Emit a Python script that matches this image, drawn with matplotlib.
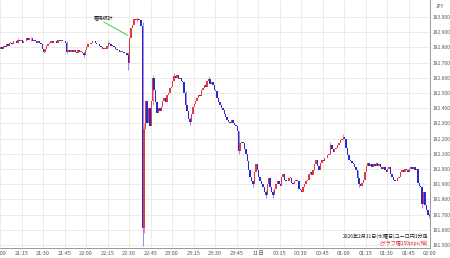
import numpy as np
import matplotlib.pyplot as plt

plt.rcParams['font.family'] = ['Noto Sans CJK JP', 'DejaVu Sans']

# 1分足の終値（21:00 から 1分ごと）
closes = [
    182.80, 182.79, 182.81, 182.80, 182.82, 182.81, 182.83, 182.83, 182.82, 182.84,
    182.84, 182.83, 182.85, 182.84, 182.85, 182.83, 182.84, 182.84, 182.86, 182.85,
    182.86, 182.86, 182.84, 182.85, 182.84, 182.83, 182.84, 182.83, 182.82, 182.79,
    182.77, 182.79, 182.81, 182.82, 182.83, 182.84, 182.83, 182.84, 182.84, 182.83,
    182.85, 182.84, 182.85, 182.84, 182.84, 182.83, 182.77, 182.78, 182.77, 182.78,
    182.77, 182.78, 182.77, 182.76, 182.78, 182.77, 182.77, 182.76, 182.75, 182.78,
    182.80, 182.82, 182.82, 182.83, 182.84, 182.84, 182.83, 182.82, 182.82, 182.81,
    182.80, 182.79, 182.79, 182.79, 182.81, 182.83, 182.82, 182.81, 182.81, 182.80,
    182.79, 182.78, 182.78, 182.77, 182.77, 182.77, 182.76, 182.76, 182.75, 182.70,
    182.86, 182.93, 182.95, 182.99, 182.98, 182.99, 182.98, 182.98, 182.94, 181.61,
    182.26, 182.45, 182.30, 182.40, 182.28, 182.45, 182.60, 182.52, 182.44, 182.37,
    182.40, 182.38, 182.41, 182.45, 182.47, 182.44, 182.49, 182.50, 182.53, 182.54,
    182.58, 182.61, 182.60, 182.62, 182.59, 182.60, 182.58, 182.57, 182.50, 182.42,
    182.38, 182.33, 182.31, 182.36, 182.41, 182.43, 182.45, 182.47, 182.49, 182.48,
    182.52, 182.53, 182.55, 182.54, 182.58, 182.59, 182.56, 182.57, 182.55, 182.52,
    182.51, 182.47, 182.44, 182.42, 182.40, 182.39, 182.36, 182.34, 182.32, 182.31,
    182.30, 182.32, 182.30, 182.29, 182.28, 182.25, 182.12, 182.17, 182.18, 182.17,
    182.13, 182.10, 182.05, 181.99, 181.95, 181.92, 181.90, 181.98, 182.03, 181.99,
    181.95, 181.92, 181.90, 181.88, 181.85, 181.83, 181.90, 181.94, 181.88, 181.85,
    181.83, 181.87, 181.90, 181.92, 181.90, 181.89, 181.95, 181.97, 181.93, 181.92,
    181.92, 181.94, 181.94, 181.91, 181.90, 181.92, 181.93, 181.92, 181.87, 181.86,
    181.85, 181.88, 181.90, 181.92, 181.93, 181.97, 181.98, 181.96, 181.99, 182.03,
    182.06, 182.02, 181.99, 182.04, 182.06, 182.05, 182.07, 182.07, 182.09, 182.10,
    182.16, 182.13, 182.11, 182.13, 182.14, 182.16, 182.17, 182.19, 182.20, 182.21,
    182.20, 182.14, 182.09, 182.06, 182.05, 182.04, 182.03, 182.01, 181.99, 181.94,
    181.90, 181.89, 181.91, 181.93, 181.98, 182.02, 182.04, 182.02, 182.03, 182.01,
    182.03, 182.02, 182.04, 182.02, 182.03, 182.01, 182.00, 182.01, 181.99, 181.98,
    182.00, 182.01, 181.97, 181.95, 181.93, 181.92, 181.92, 181.94, 181.95, 181.98,
    181.99, 181.98, 182.00, 181.99, 181.98, 182.00, 182.01, 182.00, 182.01, 181.99,
    182.00, 181.91, 181.89, 181.88, 181.77, 181.85, 181.76, 181.73, 181.70, 181.69,
]
first_open = 182.79

# 目立つヒゲ（分: 高値, 安値）
wicks = {
    12: (182.86, 182.83),
    21: (182.87, 182.84),
    30: (182.79, 182.76),
    46: (182.84, 182.76),
    58: (182.77, 182.74),
    75: (182.84, 182.80),
    89: (182.77, 182.65),
    95: (183.00, 182.97),
    99: (182.97, 181.49),
    100: (182.30, 181.58),
    106: (182.62, 182.42),
    121: (182.63, 182.58),
    129: (182.51, 182.40),
    132: (182.34, 182.29),
    145: (182.61, 182.57),
    166: (182.25, 182.10),
    176: (181.92, 181.88),
    185: (181.86, 181.81),
    190: (181.86, 181.81),
    230: (182.18, 182.09),
    239: (182.23, 182.19),
    249: (181.99, 181.92),
    250: (181.94, 181.88),
    294: (181.89, 181.74),
    299: (181.71, 181.68),
}

tick_labels = ['21:00', '21:15', '21:30', '21:45', '22:00', '22:15', '22:30',
               '22:45', '23:00', '23:15', '23:30', '23:45', '11日', '00:15',
               '00:30', '00:45', '01:00', '01:15', '01:30', '01:45', '02:00']
price_ticks = [181.5, 181.6, 181.7, 181.8, 181.9, 182.0, 182.1, 182.2,
               182.3, 182.4, 182.5, 182.6, 182.7, 182.8, 182.9, 183.0]

closes = np.array(closes)
opens = np.concatenate([[first_open], closes[:-1]])
x = np.arange(len(closes)) + 0.5
up = closes >= opens

fig = plt.figure(figsize=(4.5, 2.58), dpi=100)
ax = fig.add_axes([0, 10 / 258, 430 / 450, 248 / 258])

for m, (hi, lo) in wicks.items():
    c = '#f08aa0' if up[m] else '#9a8ae0'
    ax.vlines(x[m], lo, hi, color=c, linewidth=0.7, zorder=2)

body = np.where(np.abs(closes - opens) < 0.004, 0.004, closes - opens)
ax.bar(x, body, bottom=opens, width=1.0,
       color=np.where(up, '#e5383b', '#2a2ad0'), linewidth=0, zorder=3)

ax.set_xlim(0, 300)
ax.set_ylim(181.48, 183.112)
ax.set_xticks(np.arange(0, 301, 15))
ax.set_xticklabels(tick_labels)
ax.set_yticks(price_ticks)
ax.set_yticklabels([f'{p:.3f}' for p in price_ticks])
ax.yaxis.tick_right()
ax.tick_params(axis='x', labelsize=4, colors='#555555', length=0, pad=2)
ax.tick_params(axis='y', labelsize=3.5, colors='#555555', length=0, pad=2)
ax.grid(True, color='#e8e8e8', linewidth=0.6)
ax.set_axisbelow(True)
for s in ['left', 'top']:
    ax.spines[s].set_visible(False)
ax.spines['right'].set_color('#888888')
ax.spines['bottom'].set_color('#888888')
ax.spines['right'].set_linewidth(0.6)
ax.spines['bottom'].set_linewidth(0.6)

fig.text(440 / 450, 1 - 6 / 258, 'JPY', fontsize=3.5, color='#555555', ha='center', va='center')

# 雇用統計の注記
ax.plot([72.5, 89], [182.967, 182.88], color='#33bb33', linewidth=0.6, zorder=4)
ax.text(72, 182.993, '雇用統計', fontsize=3.5, ha='center', va='center', color='#222222')

fig.text(428 / 450, 1 - 236 / 258, '2026年2月11日(水曜日)ユーロ円1分足',
         fontsize=3.6, ha='right', va='center', color='#222222')
fig.text(428 / 450, 1 - 243 / 258, '(グラフ幅150pips/縦)',
         fontsize=3.6, ha='right', va='center', color='#dd2222')

fig.savefig('out.png', dpi=100)
